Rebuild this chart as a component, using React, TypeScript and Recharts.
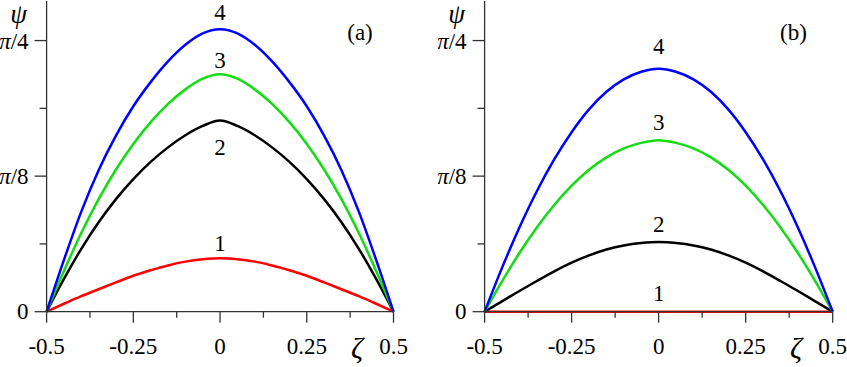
import React from "react";
import { LineChart, Line, XAxis, YAxis } from "recharts";

// zeta grid, step 0.05
const ZETA = [
  -0.5, -0.45, -0.4, -0.35, -0.3, -0.25, -0.2, -0.15, -0.1, -0.05, 0,
  0.05, 0.1, 0.15, 0.2, 0.25, 0.3, 0.35, 0.4, 0.45, 0.5,
];

// panel (a), psi in radians
const A1 = [0, 0.023, 0.045, 0.065, 0.085, 0.104, 0.12, 0.134, 0.145, 0.152, 0.155, 0.152, 0.145, 0.134, 0.12, 0.104, 0.085, 0.065, 0.045, 0.023, 0];
const A2 = [0, 0.095, 0.182, 0.259, 0.326, 0.384, 0.434, 0.476, 0.511, 0.538, 0.554, 0.538, 0.511, 0.476, 0.434, 0.384, 0.326, 0.259, 0.182, 0.095, 0];
const A3 = [0, 0.118, 0.228, 0.326, 0.412, 0.486, 0.549, 0.602, 0.644, 0.675, 0.688, 0.675, 0.644, 0.602, 0.549, 0.486, 0.412, 0.326, 0.228, 0.118, 0];
const A4 = [0, 0.15, 0.29, 0.41, 0.51, 0.595, 0.665, 0.725, 0.773, 0.806, 0.818, 0.806, 0.773, 0.725, 0.665, 0.595, 0.51, 0.41, 0.29, 0.15, 0];

// panel (b)
const B1 = [0, 0, 0, 0, 0, 0, 0, 0, 0, 0, 0, 0, 0, 0, 0, 0, 0, 0, 0, 0, 0];
const B2 = [0, 0.03, 0.06, 0.089, 0.117, 0.142, 0.163, 0.18, 0.192, 0.199, 0.202, 0.199, 0.192, 0.18, 0.163, 0.142, 0.117, 0.089, 0.06, 0.03, 0];
const B3 = [0, 0.088, 0.17, 0.244, 0.309, 0.365, 0.411, 0.447, 0.473, 0.489, 0.497, 0.489, 0.473, 0.447, 0.411, 0.365, 0.309, 0.244, 0.17, 0.088, 0];
const B4 = [0, 0.127, 0.244, 0.349, 0.441, 0.52, 0.586, 0.637, 0.673, 0.695, 0.704, 0.695, 0.673, 0.637, 0.586, 0.52, 0.441, 0.349, 0.244, 0.127, 0];

const X_TICKS = [-0.5, -0.375, -0.25, -0.125, 0, 0.125, 0.25, 0.375, 0.5];
const X_LABELS = ["-0.5", "", "-0.25", "", "0", "", "0.25", "", "0.5"];
const Y_TICKS = [0, Math.PI / 16, Math.PI / 8, (3 * Math.PI) / 16, Math.PI / 4];
const Y_LABELS = ["0", "", "π/8", "", "π/4"];
const CURVE_NAMES = ["1", "2", "3", "4"];

const FONT = '"Liberation Serif", "Times New Roman", Times, "DejaVu Serif", serif';
const TXT = { fontFamily: FONT };
const AXIS_COLOR = "#333";
const COLORS = ["#ff0000", "#000000", "#11dd11", "#0000ff"];
const PEAK = ZETA.indexOf(0);

const YTick = (props: any) => {
  const { x, y, index } = props;
  const label = Y_LABELS[index];
  const len = label ? 12 : 7;
  const parts = label.split("π");
  return (
    <g>
      <line x1={x - len} x2={x} y1={y} y2={y} stroke={AXIS_COLOR} strokeWidth={1.3} />
      {label && (
        <text x={x - 18} y={y} textAnchor="end" dominantBaseline="central" style={TXT} fontSize={23} fill="#000">
          {parts.length > 1 ? (
            <>
              <tspan fontStyle="italic">π</tspan>
              <tspan>{parts[1]}</tspan>
            </>
          ) : (
            label
          )}
        </text>
      )}
    </g>
  );
};

const XTick = (props: any) => {
  const { x, y, index } = props;
  const label = X_LABELS[index];
  const len = label ? 11 : 6;
  return (
    <g>
      <line x1={x} x2={x} y1={y} y2={y + len} stroke={AXIS_COLOR} strokeWidth={1.3} />
      {label && (
        <text x={x} y={y + 42} textAnchor="middle" style={TXT} fontSize={23} fill="#000">
          {label}
        </text>
      )}
    </g>
  );
};

function Panel({
  series,
  offsets,
  tag,
  tagX,
  left,
  width,
  right,
}: {
  series: number[][];
  offsets: number[];
  tag: string;
  tagX: number;
  left: number;
  width: number;
  right: number;
}) {
  const data = ZETA.map((z, i) => ({
    z,
    s1: series[0][i],
    s2: series[1][i],
    s3: series[2][i],
    s4: series[3][i],
  }));
  return (
    <div style={{ position: "absolute", left, top: 0 }}>
      <LineChart width={width} height={367} data={data} margin={{ top: 1, right, left: 0, bottom: 0 }}>
        <XAxis
          dataKey="z"
          type="number"
          domain={[-0.5, 0.5]}
          ticks={X_TICKS}
          interval={0}
          height={55.3}
          tickSize={0}
          tickMargin={0}
          tickLine={false}
          axisLine={{ stroke: AXIS_COLOR, strokeWidth: 1.3 }}
          tick={<XTick />}
          label={{
            content: ({ viewBox }: any) => (
              <text
                x={viewBox.x + viewBox.width * 0.895}
                y={viewBox.y + 46}
                textAnchor="middle"
                style={TXT}
                fontStyle="italic"
                fontSize={30}
                fill="#000"
              >
                ζ
              </text>
            ),
          }}
        />
        <YAxis
          type="number"
          domain={[0, 0.9]}
          ticks={Y_TICKS}
          interval={0}
          width={46.6}
          tickSize={0}
          tickMargin={0}
          tickLine={false}
          axisLine={{ stroke: AXIS_COLOR, strokeWidth: 1.3 }}
          tick={<YTick />}
          label={{
            content: ({ viewBox }: any) => (
              <text
                x={viewBox.x + viewBox.width - 28}
                y={23}
                textAnchor="middle"
                style={TXT}
                fontStyle="italic"
                fontSize={27}
                fill="#000"
              >
                ψ
              </text>
            ),
          }}
        />
        {[0, 1, 2, 3].map((k) => (
          <Line
            key={k}
            dataKey={`s${k + 1}`}
            type="monotone"
            stroke={COLORS[k]}
            strokeWidth={2.5}
            dot={false}
            activeDot={false}
            isAnimationActive={false}
            label={(p: any) =>
              p.index === PEAK ? (
                <text
                  key={`lbl${k}`}
                  x={p.x}
                  y={p.y + offsets[k]}
                  textAnchor="middle"
                  dominantBaseline="central"
                  style={TXT}
                  fontSize={23}
                  fill="#000"
                >
                  {CURVE_NAMES[k]}
                </text>
              ) : (
                <g key={`e${k}-${p.index}`} />
              )
            }
          />
        ))}
      </LineChart>
      <div
        style={{
          position: "absolute",
          left: tagX - 20,
          width: 40,
          textAlign: "center",
          top: 21,
          fontFamily: FONT,
          fontSize: 23,
          lineHeight: "23px",
          color: "#000",
        }}
      >
        {tag}
      </div>
    </div>
  );
}

export default function App() {
  return (
    <div style={{ position: "absolute", left: 0, top: 0, width: 847, height: 367, background: "#fff", overflow: "hidden" }}>
      <Panel series={[A1, A2, A3, A4]} offsets={[-15, 27, -14, -17]} tag="(a)" tagX={360} left={0} width={425} right={31.5} />
      <Panel series={[B1, B2, B3, B4]} offsets={[-18, -17, -18, -22]} tag="(b)" tagX={355.5} left={438} width={409} right={14.3} />
    </div>
  );
}
